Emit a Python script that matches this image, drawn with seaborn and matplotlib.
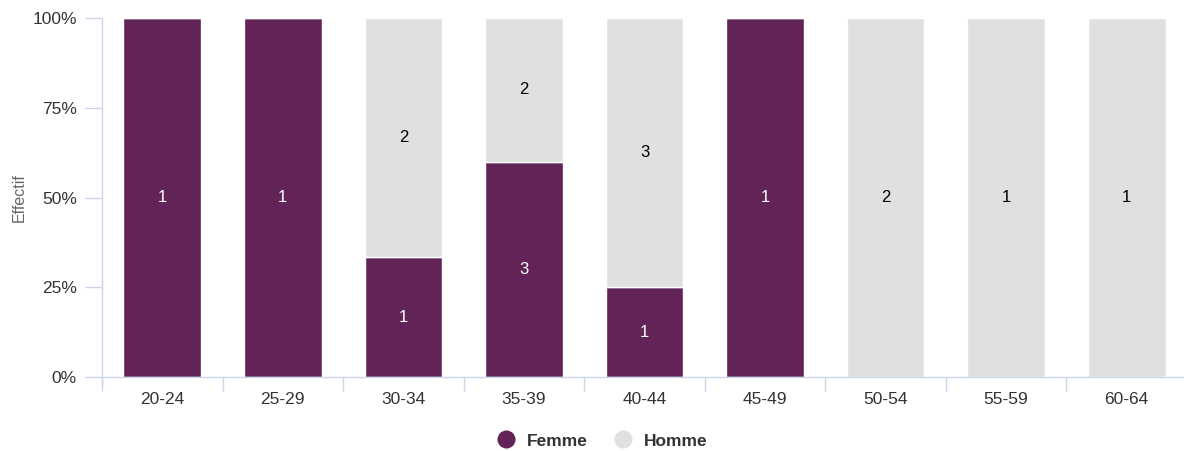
import numpy as np
import pandas as pd
import seaborn as sns
import matplotlib.pyplot as plt
from matplotlib.lines import Line2D
from matplotlib.ticker import PercentFormatter

# age groups and counts by sex
ages = ["20-24", "25-29", "30-34", "35-39", "40-44", "45-49", "50-54", "55-59", "60-64"]
femme = [1, 1, 1, 3, 1, 1, 0, 0, 0]
homme = [0, 0, 2, 2, 3, 0, 2, 1, 1]

c_f = "#622356"
c_h = "#e0e0e0"
grid_c = "#ccd6eb"

df = pd.DataFrame({"age": ages, "femme": femme, "homme": homme})
df["total"] = df["femme"] + df["homme"]
df["p_f"] = df["femme"] / df["total"] * 100
df["p_h"] = df["homme"] / df["total"] * 100

sns.set_theme(style="white")
plt.rcParams["font.family"] = ["Liberation Sans", "DejaVu Sans"]

fig = plt.figure(figsize=(11.84, 4.51), dpi=100)
ax = fig.add_axes([102 / 1184, 1 - 377 / 451, 1085 / 1184, (377 - 18) / 451])

sns.barplot(x="age", y="p_f", data=df, color=c_f, width=0.645, saturation=1, ax=ax)
sns.barplot(x="age", y="p_h", data=df, color=c_h, width=0.645, saturation=1,
            bottom=df["p_f"], ax=ax)

# value labels
for i, row in df.iterrows():
    if row["femme"] > 0:
        ax.text(i, row["p_f"] / 2, str(row["femme"]), ha="center", va="center",
                color="white", fontsize=12)
    if row["homme"] > 0:
        ax.text(i, row["p_f"] + row["p_h"] / 2, str(row["homme"]), ha="center",
                va="center", color="black", fontsize=12)

ax.set_xlim(-0.5, len(ages) - 0.5)
ax.set_ylim(0, 100)
ax.set_yticks([0, 25, 50, 75, 100])
ax.yaxis.set_major_formatter(PercentFormatter(decimals=0))
ax.set_xlabel("")
ax.set_ylabel("Effectif", color="#666666", fontsize=11.5, labelpad=4)

for s in ["top", "right", "left"]:
    ax.spines[s].set_visible(False)
ax.spines["bottom"].set_color(grid_c)
ax.spines["bottom"].set_linewidth(1)

ax.tick_params(axis="y", left=True, length=12, width=1, color=grid_c, labelsize=12.5,
               labelcolor="#333333", pad=6)
ax.tick_params(axis="x", which="major", bottom=True, length=0, labelsize=12.5,
               labelcolor="#333333", pad=11)
ax.set_xticks(np.arange(-0.5, len(ages)), minor=True)
ax.tick_params(axis="x", which="minor", bottom=True, length=10, color=grid_c, width=1)

# left axis line running a bit below zero
ax.plot([0, 0], [-0.025, 1], transform=ax.transAxes, color=grid_c, lw=1, clip_on=False)

handles = [Line2D([0], [0], marker="o", color="w", markerfacecolor=c_f, markersize=14),
           Line2D([0], [0], marker="o", color="w", markerfacecolor=c_h, markersize=14)]
leg = fig.legend(handles, ["Femme", "Homme"], loc="center", bbox_to_anchor=(0.505, 1 - 441 / 451),
                 ncol=2, frameon=False, handletextpad=0.2, columnspacing=1.0,
                 prop={"weight": "bold", "size": 12.5})
for t in leg.get_texts():
    t.set_color("#333333")

fig.savefig("out.png", dpi=100)
